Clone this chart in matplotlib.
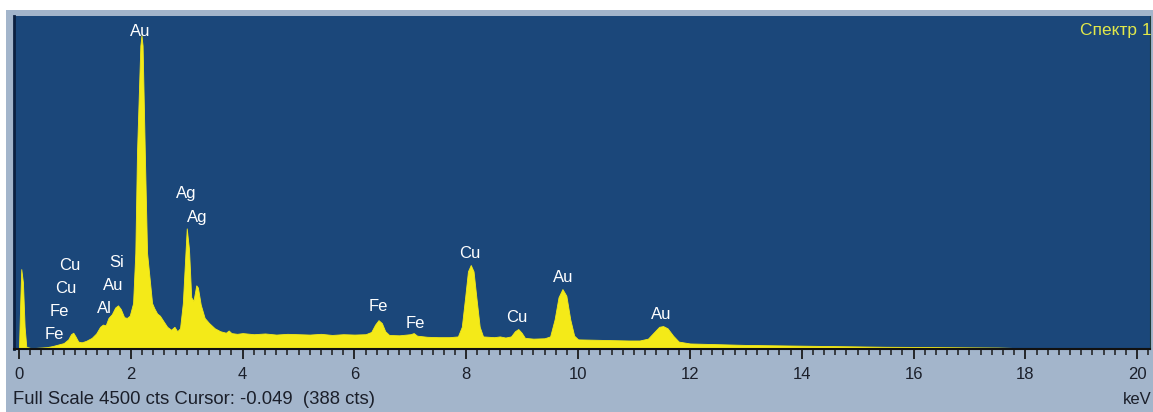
import matplotlib.pyplot as plt
from matplotlib.patches import Rectangle
from matplotlib.ticker import MultipleLocator

plt.rcParams['font.family'] = ['Liberation Sans', 'DejaVu Sans']

energy = [0.0, 0.02, 0.04, 0.07, 0.10, 0.13, 0.2, 0.3, 0.4, 0.5, 0.6, 0.7, 0.8,
          0.88, 0.93, 0.97, 1.01, 1.06, 1.12, 1.2, 1.3, 1.38, 1.45, 1.5, 1.55,
          1.6, 1.66, 1.72, 1.77, 1.82, 1.88, 1.93, 1.98, 2.04, 2.08, 2.11, 2.17,
          2.19, 2.21, 2.25, 2.29, 2.38, 2.42, 2.47, 2.52, 2.58, 2.65, 2.72, 2.78,
          2.83, 2.88, 2.93, 2.97, 3.0, 3.04, 3.08, 3.12, 3.17, 3.2, 3.25, 3.32,
          3.4, 3.5, 3.6, 3.7, 3.75, 3.8, 3.9, 4.0, 4.2, 4.4, 4.6, 4.8, 5.0, 5.2,
          5.4, 5.6, 5.8, 6.0, 6.2, 6.3, 6.37, 6.43, 6.49, 6.55, 6.62, 6.8, 7.0,
          7.06, 7.12, 7.3, 7.5, 7.7, 7.85, 7.92, 7.98, 8.03, 8.08, 8.13, 8.18,
          8.24, 8.3, 8.5, 8.6, 8.7, 8.8, 8.87, 8.93, 8.99, 9.05, 9.2, 9.4, 9.5,
          9.58, 9.65, 9.72, 9.79, 9.86, 9.93, 10.0, 10.3, 10.6, 10.9, 11.1,
          11.25, 11.35, 11.45, 11.52, 11.6, 11.7, 11.8, 12.0, 12.5, 13.0, 13.5,
          14.0, 14.5, 15.0, 15.5, 16.0, 16.5, 17.0, 17.5, 17.75, 17.8]
counts = [30, 600, 1080, 900, 300, 30, 15, 15, 20, 25, 40, 60, 80,
          130, 200, 220, 170, 100, 90, 110, 150, 210, 300, 330, 320,
          420, 470, 560, 590, 540, 430, 420, 450, 620, 1300, 2650, 4100,
          4240, 4100, 2650, 1300, 620, 550, 480, 450, 380, 300, 260, 300,
          240, 280, 620, 1200, 1630, 1350, 700, 650, 860, 830, 600, 420,
          350, 280, 240, 220, 250, 215, 205, 215, 200, 210, 195, 205, 200, 195,
          205, 190, 200, 195, 200, 230, 330, 390, 350, 240, 190, 185, 200,
          215, 180, 165, 160, 160, 170, 300, 700, 1050, 1135, 1050, 700,
          300, 170, 160, 170, 155, 170, 240, 270, 220, 150, 140, 145, 170,
          400, 700, 810, 720, 400, 180, 130, 125, 120, 115, 115,
          140, 220, 300, 310, 280, 180, 100, 75, 65, 55, 50,
          45, 40, 35, 30, 28, 25, 22, 20, 15, 0]

# peak labels: text, energy (keV), counts at the label centre
label_text = ['Au', 'Ag', 'Ag', 'Si', 'Au', 'Al', 'Cu', 'Cu', 'Fe', 'Fe',
              'Fe', 'Fe', 'Cu', 'Cu', 'Au', 'Au']
label_kev = [2.16, 2.99, 3.18, 1.74, 1.68, 1.52, 0.91, 0.84, 0.72, 0.64,
             6.42, 7.08, 8.07, 8.91, 9.73, 11.48]
label_cts = [4290, 2100, 1780, 1170, 860, 550, 1130, 820, 510, 200,
             570, 350, 1290, 430, 970, 460]

fig = plt.figure(figsize=(11.53, 4.12), dpi=100, facecolor='#a3b5cb')
# white margins of the screenshot (top and left)
fig.patches.append(Rectangle((0, 1 - 10 / 412), 1, 10 / 412, transform=fig.transFigure,
                             facecolor='white', edgecolor='none'))
fig.patches.append(Rectangle((0, 0), 6 / 1153, 1, transform=fig.transFigure,
                             facecolor='white', edgecolor='none'))

ax = fig.add_axes([14 / 1153, 1 - 349 / 412, 1136 / 1153, 333 / 412])
ax.set_facecolor('#1b477a')
ax.fill_between(energy, counts, 0, color='#f4ea18', lw=0.6, edgecolor='#f4ea18')
ax.set_xlim(-0.09, 20.23)
ax.set_ylim(0, 4500)

for t, x, y in zip(label_text, label_kev, label_cts):
    ax.text(x, y, t, color='white', fontsize=12, ha='center', va='center')

ax.xaxis.set_major_locator(MultipleLocator(2))
ax.xaxis.set_minor_locator(MultipleLocator(0.2))
ax.tick_params(axis='x', which='major', length=7, width=1.3, color='#1a1a1a',
               labelsize=12, pad=6, labelcolor='#1b1f2a')
ax.tick_params(axis='x', which='minor', length=4, width=1.1, color='#1a1a1a')
ax.set_yticks([])
ax.spines['bottom'].set_color('#111111')
ax.spines['bottom'].set_linewidth(1.5)
ax.spines['left'].set_color('#0c2040')
ax.spines['left'].set_linewidth(2)
ax.spines['right'].set_color('#1e3b3a')
ax.spines['top'].set_visible(False)

fig.text(1152 / 1153, 1 - 30 / 412, 'Спектр 1', color='#e2e84a', fontsize=12.5,
         va='center', ha='right')
fig.text(13 / 1153, 1 - 400 / 412, 'Full Scale 4500 cts Cursor: -0.049  (388 cts)',
         fontsize=13.3, color='#1b1f2a', va='center', ha='left')
fig.text(1152 / 1153, 1 - 400 / 412, 'keV', fontsize=12, color='#1b1f2a',
         va='center', ha='right')

fig.savefig('out.png', dpi=100, facecolor=fig.get_facecolor())
